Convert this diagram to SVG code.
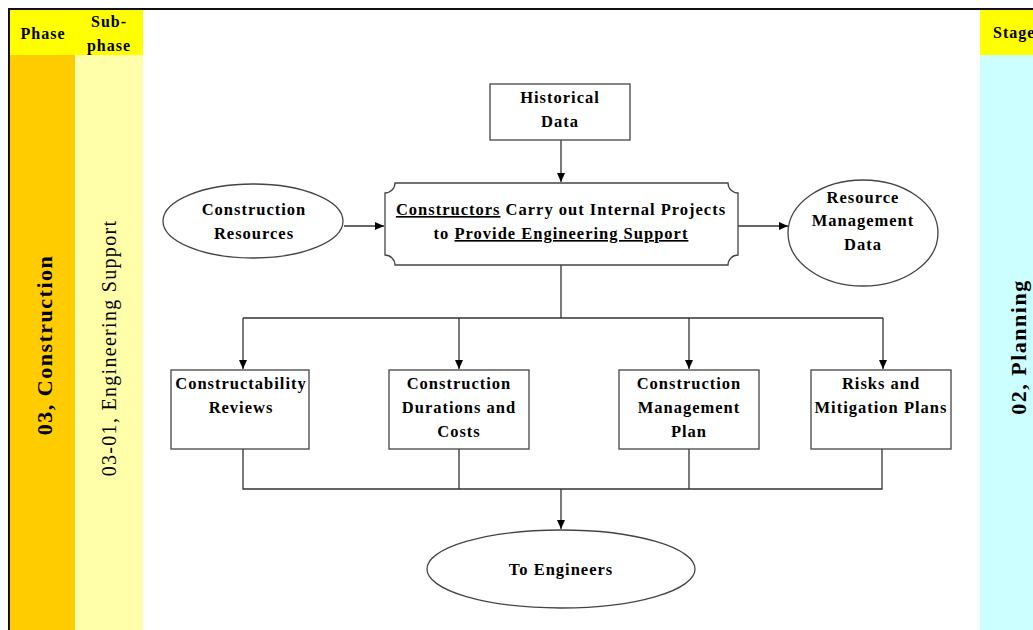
<svg xmlns="http://www.w3.org/2000/svg" width="1033" height="630" viewBox="0 0 1033 630">
  <defs>
    <marker id="arrow" markerWidth="10" markerHeight="10" refX="9" refY="5" orient="auto" markerUnits="userSpaceOnUse">
      <path d="M0,1 L9,5 L0,9 Z" fill="#000"/>
    </marker>
    <style>
      text { font-family: "Liberation Serif", "DejaVu Serif", serif; fill: #000; }
      .t { font-weight: bold; font-size: 16.5px; text-anchor: middle; letter-spacing: 1px; }
      .hdr { font-weight: bold; font-size: 16px; text-anchor: middle; letter-spacing: 1px; }
      .lane { font-weight: bold; font-size: 22px; text-anchor: middle; letter-spacing: 1.5px; }
      .sub { font-size: 20px; text-anchor: middle; letter-spacing: 1.3px; }
      .node { fill: #fff; stroke: #444; stroke-width: 1.3; }
      .conn { fill: none; stroke: #333; stroke-width: 1.3; }
      .u { text-decoration: underline; }
    </style>
  </defs>

  <!-- page background -->
  <rect x="0" y="0" width="1033" height="630" fill="#fff"/>

  <!-- swimlane bands -->
  <g id="lanes">
    <rect x="10" y="10" width="133" height="45" fill="#FFFF00"/>
    <rect x="10" y="55" width="65" height="575" fill="#FFCC00"/>
    <rect x="75" y="55" width="68" height="575" fill="#FFFFAA"/>
    <rect x="980" y="10" width="53" height="45" fill="#FFFF00"/>
    <rect x="980" y="55" width="53" height="575" fill="#CCFFFF"/>
    <text class="hdr" x="43" y="39">Phase</text>
    <text class="hdr" x="109" y="27">Sub-</text>
    <text class="hdr" x="109" y="51">phase</text>
    <text class="hdr" x="993" y="38" style="text-anchor:start">Stage</text>
    <text class="lane" transform="translate(52,345) rotate(-90)">03, Construction</text>
    <text class="sub" transform="translate(116,348) rotate(-90)">03-01, Engineering Support</text>
    <text class="lane" transform="translate(1026,347) rotate(-90)">02, Planning</text>
  </g>

  <!-- frame -->
  <path d="M9,630 V9 H1033" fill="none" stroke="#111" stroke-width="2"/>

  <!-- connectors -->
  <g id="connectors">
    <path class="conn" d="M561,140 V182" marker-end="url(#arrow)"/>
    <path class="conn" d="M344,226 H384" marker-end="url(#arrow)"/>
    <path class="conn" d="M738,226 H788" marker-end="url(#arrow)"/>
    <path class="conn" d="M561,265 V318 M243,318 H883"/>
    <path class="conn" d="M243,318 V369" marker-end="url(#arrow)"/>
    <path class="conn" d="M459,318 V369" marker-end="url(#arrow)"/>
    <path class="conn" d="M689,318 V369" marker-end="url(#arrow)"/>
    <path class="conn" d="M883,318 V369" marker-end="url(#arrow)"/>
    <path class="conn" d="M243,449 V489 H882 V449 M459,449 V489 M689,449 V489"/>
    <path class="conn" d="M561,489 V529" marker-end="url(#arrow)"/>
  </g>

  <!-- nodes -->
  <g id="historical-data">
    <rect class="node" x="490" y="84" width="140" height="56"/>
    <text class="t" x="560" y="103">Historical</text>
    <text class="t" x="560" y="127">Data</text>
  </g>

  <g id="construction-resources">
    <ellipse class="node" cx="253" cy="221" rx="90" ry="37"/>
    <text class="t" x="254" y="215">Construction</text>
    <text class="t" x="254" y="239">Resources</text>
  </g>

  <g id="internal-projects">
    <path class="node" d="M395,183 H728 A10,10 0 0 0 738,193 V255 A10,10 0 0 0 728,265 H395 A10,10 0 0 0 385,255 V193 A10,10 0 0 0 395,183 Z"/>
    <text class="t" x="561" y="215"><tspan class="u">Constructors</tspan> Carry out Internal Projects</text>
    <text class="t" x="561" y="239">to <tspan class="u">Provide Engineering Support</tspan></text>
  </g>

  <g id="resource-management-data">
    <ellipse class="node" cx="863" cy="233" rx="75" ry="53"/>
    <text class="t" x="863" y="203">Resource</text>
    <text class="t" x="863" y="226">Management</text>
    <text class="t" x="863" y="250">Data</text>
  </g>

  <g id="constructability-reviews">
    <rect class="node" x="171" y="370" width="138" height="79"/>
    <text class="t" x="241" y="389">Constructability</text>
    <text class="t" x="241" y="413">Reviews</text>
  </g>

  <g id="durations-costs">
    <rect class="node" x="389" y="370" width="140" height="79"/>
    <text class="t" x="459" y="389">Construction</text>
    <text class="t" x="459" y="413">Durations and</text>
    <text class="t" x="459" y="437">Costs</text>
  </g>

  <g id="management-plan">
    <rect class="node" x="619" y="370" width="140" height="79"/>
    <text class="t" x="689" y="389">Construction</text>
    <text class="t" x="689" y="413">Management</text>
    <text class="t" x="689" y="437">Plan</text>
  </g>

  <g id="risks-mitigation">
    <rect class="node" x="811" y="370" width="140" height="79"/>
    <text class="t" x="881" y="389">Risks and</text>
    <text class="t" x="881" y="413">Mitigation Plans</text>
  </g>

  <g id="to-engineers">
    <ellipse class="node" cx="561" cy="569" rx="134" ry="39"/>
    <text class="t" x="561" y="575">To Engineers</text>
  </g>
</svg>
